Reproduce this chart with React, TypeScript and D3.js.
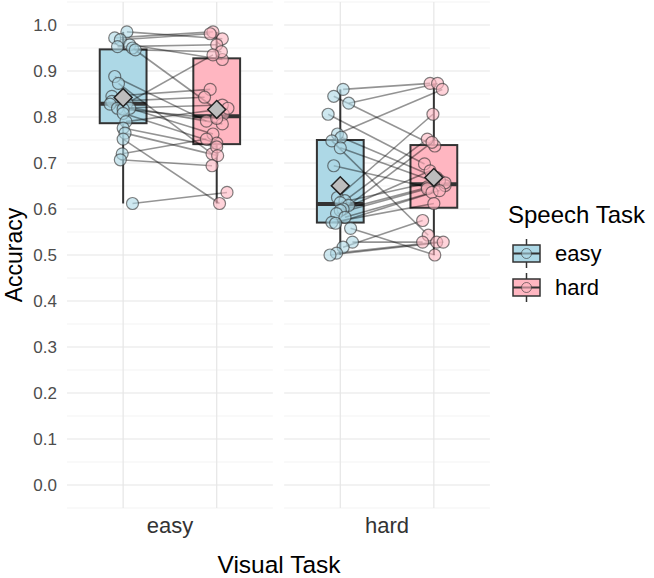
import * as d3 from "d3";
import React, { useEffect, useRef } from "react";

// facet (visual task) and x (speech task) categories
const visualTasks = ["easy", "hard"];
const speechTasks = ["easy", "hard"];
const yTicks = [0, 0.1, 0.2, 0.3, 0.4, 0.5, 0.6, 0.7, 0.8, 0.9, 1.0];
const yMinor = [-0.05, 0.05, 0.15, 0.25, 0.35, 0.45, 0.55, 0.65, 0.75, 0.85, 0.95, 1.05];

// accuracy per subject, visual task = easy
const visEasySpEasy = [0.985, 0.972, 0.968, 0.957, 0.953, 0.95, 0.946, 0.888, 0.873, 0.845, 0.834, 0.83, 0.828, 0.819, 0.819, 0.817, 0.808, 0.79, 0.776, 0.765, 0.752, 0.72, 0.707, 0.612];
const visEasySpHard = [0.97, 0.985, 0.981, 0.925, 0.957, 0.806, 0.942, 0.791, 0.72, 0.86, 0.843, 0.935, 0.785, 0.826, 0.763, 0.797, 0.743, 0.819, 0.735, 0.716, 0.612, 0.752, 0.694, 0.636];
// accuracy per subject, visual task = hard
const visHardSpEasy = [0.86, 0.845, 0.83, 0.806, 0.763, 0.756, 0.748, 0.733, 0.694, 0.625, 0.618, 0.614, 0.608, 0.6, 0.597, 0.59, 0.582, 0.571, 0.569, 0.558, 0.528, 0.517, 0.504, 0.5];
const visHardSpHard = [0.873, 0.737, 0.873, 0.698, 0.86, 0.668, 0.543, 0.651, 0.648, 0.806, 0.752, 0.662, 0.745, 0.683, 0.657, 0.644, 0.636, 0.612, 0.64, 0.5, 0.528, 0.575, 0.528, 0.528];

// horizontal jitter of each point, as a fraction of the category step
const jitVisEasySpEasy = [0.04, -0.09, -0.03, 0.07, -0.06, 0.1, 0.13, -0.09, -0.05, -0.12, -0.12, 0.04, -0.14, -0.06, 0.07, 0, 0, 0.03, 0, 0.02, 0, -0.01, -0.03, 0.1];
const jitVisEasySpHard = [0.06, -0.04, -0.07, 0.06, 0, 0.07, 0.05, -0.11, -0.05, -0.07, -0.13, -0.04, 0.06, 0.06, -0.04, 0, 0, 0.12, 0, 0.01, 0.03, -0.11, -0.05, 0.11];
const jitVisHardSpEasy = [0.03, -0.07, 0.09, -0.13, -0.03, 0.01, -0.09, 0, -0.07, -0.03, 0.05, 0, 0.09, 0.03, 0, -0.04, 0.05, -0.09, -0.05, 0.11, 0.13, 0.03, -0.04, -0.11];
const jitVisHardSpHard = [-0.04, 0.01, 0.04, -0.1, 0.09, 0.03, -0.06, 0.12, -0.07, -0.01, -0.07, 0.06, -0.02, -0.04, 0.12, -0.07, -0.02, 0, 0.06, 0.01, -0.12, -0.12, 0.03, 0.1];

const panelData = [
  { visual: "easy", values: [visEasySpEasy, visEasySpHard], jitter: [jitVisEasySpEasy, jitVisEasySpHard] },
  { visual: "hard", values: [visHardSpEasy, visHardSpHard], jitter: [jitVisHardSpEasy, jitVisHardSpHard] },
];

const fillColors: Record<string, string> = { easy: "#ADD8E6", hard: "#FFB6C1" };
const FONT = "'Liberation Sans', Arial, Helvetica, sans-serif";

const boxStats = (vals: number[]) => {
  const s = [...vals].sort(d3.ascending);
  const q1 = d3.quantile(s, 0.25)!;
  const med = d3.quantile(s, 0.5)!;
  const q3 = d3.quantile(s, 0.75)!;
  const iqr = q3 - q1;
  const lo = d3.min(s.filter((v) => v >= q1 - 1.5 * iqr))!;
  const hi = d3.max(s.filter((v) => v <= q3 + 1.5 * iqr))!;
  return { q1, med, q3, lo, hi, mean: d3.mean(s)! };
};

export default function App() {
  const svgRef = useRef<SVGSVGElement>(null);

  useEffect(() => {
    const svg = d3.select(svgRef.current);
    svg.selectAll("*").remove();

    const fx = d3.scaleBand().domain(visualTasks).range([67, 490]).paddingInner(0.052);
    const x = d3.scalePoint().domain(speechTasks).range([0, fx.bandwidth()]).padding(0.6);
    const y = d3.scaleLinear().domain([-0.05, 1.05]).range([508, 2]);
    const step = x.step();
    const boxW = step * 0.5;

    // panels
    panelData.forEach((p) => {
      const g = svg.append("g").attr("transform", `translate(${fx(p.visual)},0)`);

      // grid
      g.selectAll(".minor").data(yMinor).enter().append("line")
        .attr("x1", 0).attr("x2", fx.bandwidth())
        .attr("y1", (d) => y(d)).attr("y2", (d) => y(d))
        .attr("stroke", "#f0f0f0").attr("stroke-width", 0.8);
      g.selectAll(".major").data(yTicks).enter().append("line")
        .attr("x1", 0).attr("x2", fx.bandwidth())
        .attr("y1", (d) => y(d)).attr("y2", (d) => y(d))
        .attr("stroke", "#e6e6e6").attr("stroke-width", 1.2);
      g.selectAll(".vmajor").data(speechTasks).enter().append("line")
        .attr("x1", (d) => x(d)!).attr("x2", (d) => x(d)!)
        .attr("y1", y(-0.05)).attr("y2", y(1.05))
        .attr("stroke", "#e6e6e6").attr("stroke-width", 1.2);

      // boxplots
      speechTasks.forEach((sp, i) => {
        const st = boxStats(p.values[i]);
        const cx = x(sp)!;
        g.append("line").attr("x1", cx).attr("x2", cx)
          .attr("y1", y(st.hi)).attr("y2", y(st.q3))
          .attr("stroke", "#333").attr("stroke-width", 2);
        g.append("line").attr("x1", cx).attr("x2", cx)
          .attr("y1", y(st.q1)).attr("y2", y(st.lo))
          .attr("stroke", "#333").attr("stroke-width", 2);
        g.append("rect")
          .attr("x", cx - boxW / 2).attr("width", boxW)
          .attr("y", y(st.q3)).attr("height", y(st.q1) - y(st.q3))
          .attr("fill", fillColors[sp]).attr("stroke", "#333").attr("stroke-width", 2);
        g.append("line").attr("x1", cx - boxW / 2).attr("x2", cx + boxW / 2)
          .attr("y1", y(st.med)).attr("y2", y(st.med))
          .attr("stroke", "#333").attr("stroke-width", 4);
      });

      // subject lines
      const n = p.values[0].length;
      const px = (i: number, k: number) => x(speechTasks[i])! + p.jitter[i][k] * step;
      g.selectAll(".subj").data(d3.range(n)).enter().append("line")
        .attr("x1", (k) => px(0, k)).attr("y1", (k) => y(p.values[0][k]))
        .attr("x2", (k) => px(1, k)).attr("y2", (k) => y(p.values[1][k]))
        .attr("stroke", "#000").attr("stroke-opacity", 0.42).attr("stroke-width", 1.6);

      // points
      speechTasks.forEach((sp, i) => {
        g.selectAll(`.pt${i}`).data(d3.range(n)).enter().append("circle")
          .attr("cx", (k) => px(i, k)).attr("cy", (k) => y(p.values[i][k]))
          .attr("r", 6)
          .attr("fill", fillColors[sp]).attr("fill-opacity", 0.6)
          .attr("stroke", "#333").attr("stroke-opacity", 0.62).attr("stroke-width", 1.2);
      });

      // means
      speechTasks.forEach((sp, i) => {
        const st = boxStats(p.values[i]);
        g.append("path")
          .attr("d", d3.symbol(d3.symbolSquare, 160)())
          .attr("transform", `translate(${x(sp)},${y(st.mean)}) rotate(45)`)
          .attr("fill", "#bdbdbd").attr("stroke", "#222").attr("stroke-width", 1.5);
      });

      // x tick label
      g.append("text").attr("x", fx.bandwidth() / 2).attr("y", 533)
        .attr("text-anchor", "middle").attr("font-size", 22).attr("fill", "#333")
        .attr("font-family", FONT).text(p.visual);
    });

    // y tick labels
    svg.selectAll(".ytick").data(yTicks).enter().append("text")
      .attr("x", 57).attr("y", (d) => y(d)).attr("dy", "0.36em")
      .attr("text-anchor", "end").attr("font-size", 17).attr("fill", "#4d4d4d")
      .attr("font-family", FONT).text((d) => d3.format(".1f")(d));

    // axis titles
    svg.append("text").attr("transform", `translate(22,${y(0.5)}) rotate(-90)`)
      .attr("text-anchor", "middle").attr("font-size", 23).attr("fill", "#000")
      .attr("font-family", FONT).text("Accuracy");
    svg.append("text").attr("x", 279).attr("y", 573)
      .attr("text-anchor", "middle").attr("font-size", 24.5).attr("fill", "#000")
      .attr("font-family", FONT).text("Visual Task");

    // legend
    const lg = svg.append("g");
    lg.append("text").attr("x", 508).attr("y", 223).attr("font-size", 24)
      .attr("font-family", FONT).attr("fill", "#000").text("Speech Task");
    speechTasks.forEach((sp, i) => {
      const top = 245 + i * 34;
      const kx = 513, kw = 27, kh = 17;
      const cx = kx + kw / 2, cy = top + kh / 2;
      lg.append("line").attr("x1", cx).attr("x2", cx).attr("y1", top - 6).attr("y2", top + kh + 6)
        .attr("stroke", "#333").attr("stroke-width", 1.5);
      lg.append("rect").attr("x", kx).attr("y", top).attr("width", kw).attr("height", kh)
        .attr("fill", fillColors[sp]).attr("stroke", "#333").attr("stroke-width", 1.5);
      lg.append("line").attr("x1", kx).attr("x2", kx + kw).attr("y1", cy).attr("y2", cy)
        .attr("stroke", "#333").attr("stroke-width", 2);
      lg.append("circle").attr("cx", cx).attr("cy", cy).attr("r", 5)
        .attr("fill", fillColors[sp]).attr("fill-opacity", 0.6)
        .attr("stroke", "#333").attr("stroke-opacity", 0.6).attr("stroke-width", 1);
      lg.append("text").attr("x", 555).attr("y", cy).attr("dy", "0.36em")
        .attr("font-size", 22).attr("font-family", FONT).attr("fill", "#000").text(sp);
    });
  }, []);

  return (
    <svg
      ref={svgRef}
      width={654}
      height={578}
      style={{ position: "absolute", left: 0, top: 0, background: "#fff" }}
    />
  );
}
